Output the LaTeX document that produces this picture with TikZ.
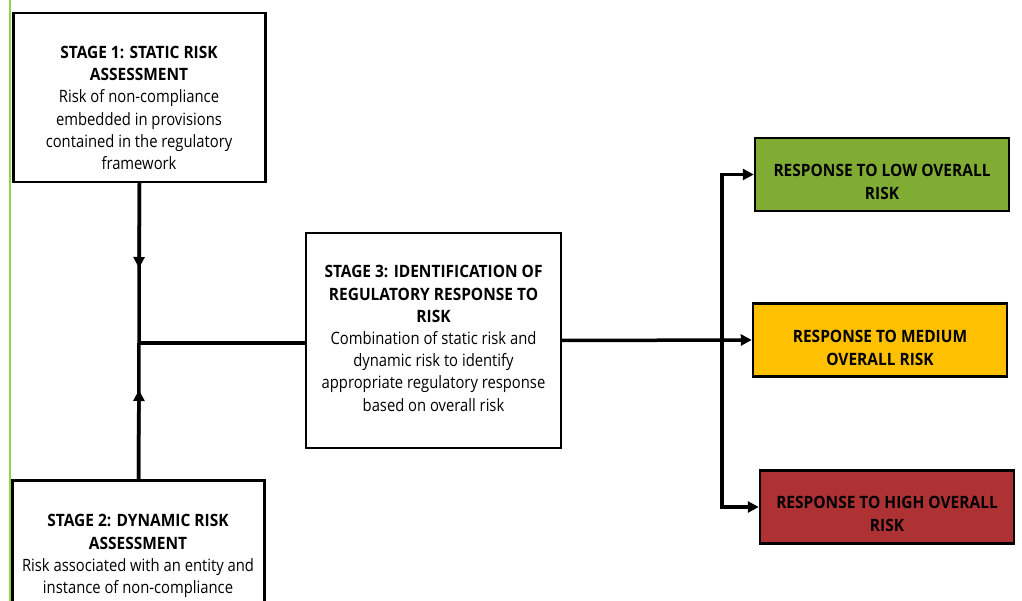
\documentclass[tikz,border=0pt]{standalone}
\usepackage{fontspec}
\setmainfont{Open Sans}[FakeStretch=0.87, BoldFeatures={FakeStretch=0.91}]
\usetikzlibrary{arrows.meta}
\definecolor{lowgreen}{RGB}{128,172,52}
\definecolor{medyellow}{RGB}{255,192,0}
\definecolor{highred}{RGB}{174,50,52}
\definecolor{edgegreen}{RGB}{146,208,80}
\tikzset{
    stagebox/.style={draw=black, line width=2.5pt, fill=white, minimum width=252pt, inner sep=0pt},
    respbox/.style={draw=black, line width=2.5pt, minimum width=254pt, minimum height=73pt, inner sep=0pt},
    boxtext/.style={align=center, font=\fontsize{17}{22.2}\selectfont, inner sep=0pt},
    resptext/.style={boxtext, font=\bfseries\fontsize{17}{22.2}\selectfont},
    conn/.style={line width=3.5pt},
    tip/.style={-{Triangle[length=11pt,width=11pt]}}
}
\begin{document}
\begin{tikzpicture}[x=1pt,y=-1pt]
            \useasboundingbox (0,0) rectangle (1022,601);
            \clip (0,0) rectangle (1022,601);
            \draw[edgegreen, line width=1.2pt] (10,0) -- (10,601);
            % stage boxes
            \node[stagebox, minimum height=169pt] (s1) at (139.5,97.5) {};
            \node[boxtext] (s1txt) at (139,108) {\textbf{STAGE 1: STATIC RISK}\\\textbf{ASSESSMENT}\\Risk of non-compliance\\embedded in provisions\\contained in the regulatory\\framework};
            \node[stagebox, minimum height=169pt] (s2) at (138.5,565) {};
            \node[boxtext] (s2txt) at (138,556) {\textbf{STAGE 2: DYNAMIC RISK}\\\textbf{ASSESSMENT}\\Risk associated with an entity and\\instance of non-compliance};
            \node[stagebox, line width=2pt, minimum width=255pt, minimum height=215pt] (s3) at (433.5,340.5) {};
            \node[boxtext] (s3txt) at (433.5,338.5) {\textbf{STAGE 3: IDENTIFICATION OF}\\\textbf{REGULATORY RESPONSE TO}\\\textbf{RISK}\\Combination of static risk and\\dynamic risk to identify\\appropriate regulatory response\\based on overall risk};
            % response boxes
            \node[respbox, fill=lowgreen] (low) at (882,174.5) {};
            \node[resptext] (lowtxt) at (882,182) {RESPONSE TO LOW OVERALL\\RISK};
            \node[respbox, fill=medyellow] (med) at (880,340) {};
            \node[resptext] (medtxt) at (880,348) {RESPONSE TO MEDIUM\\OVERALL RISK};
            \node[respbox, fill=highred] (high) at (887,507) {};
            \node[resptext] (hightxt) at (887,514) {RESPONSE TO HIGH OVERALL\\RISK};
            % connectors
            \coordinate (dn) at (139,268);
            \coordinate (up) at (139,390);
            \coordinate (j) at (139,343);
            \coordinate (br) at (722,340);
            \draw[conn] (s1.south) -- (j) -- (s3.west |- j);
            \draw[conn] (s2.north) -- (j);
            \draw[conn,tip] (s1.south) -- (dn);
            \draw[conn,tip] (s2.north) -- (up);
            \draw[conn,tip] (s3.east) -- (med.west);
            \draw[conn,tip] (br) |- (low.west);
            \draw[conn,tip] (br) |- (high.west);
        \end{tikzpicture}
\end{document}
